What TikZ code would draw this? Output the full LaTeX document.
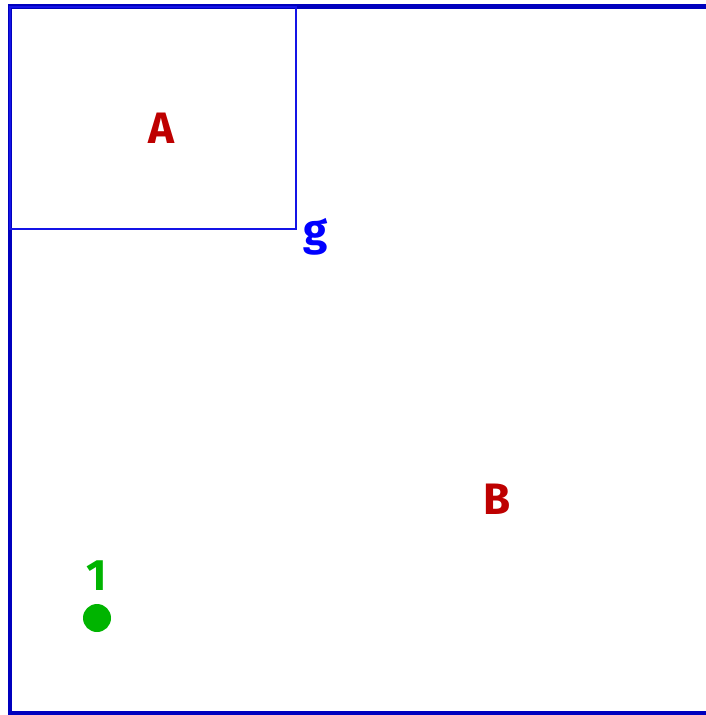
\documentclass[tikz,border=0pt]{standalone}
\usepackage{fontspec}
\setmainfont{Fira Sans}
\definecolor{framecol}{RGB}{0,0,190}
\definecolor{rectcol}{RGB}{20,20,230}
\definecolor{gcol}{RGB}{0,0,255}
\definecolor{redcol}{RGB}{190,0,0}
\definecolor{greencol}{RGB}{0,180,0}
\begin{document}
\begin{tikzpicture}[x=1pt,y=-1pt,
  lbl/.style={inner sep=0pt, font=\fontsize{44}{44}\selectfont\bfseries},
  framestyle/.style={draw=framecol, line width=4.5pt},
  rectstyle/.style={draw=rectcol, line width=2pt}]
\useasboundingbox (0,0) rectangle (706,715);
\coordinate (tr) at (712,6.5);
\coordinate (tl) at (10,6.5);
\coordinate (bl) at (10,713.5);
\coordinate (br) at (712,713.5);
\draw[framestyle] (tr) -- (tl) -- (bl) -- (br);
\coordinate (ra) at (10,6.5);
\coordinate (rb) at (296,229);
\draw[rectstyle] (ra) rectangle (rb);
\node[lbl, text=redcol] (A) at (161,128) {A};
\node[lbl, text=gcol] (g) at (316,237) {g};
\node[lbl, text=redcol] (B) at (497,499) {B};
\node[lbl, text=greencol] (one) at (97,576) {1};
\node[circle, fill=greencol, minimum size=28pt, inner sep=0pt] (dot) at (97,618) {};
\end{tikzpicture}
\end{document}
